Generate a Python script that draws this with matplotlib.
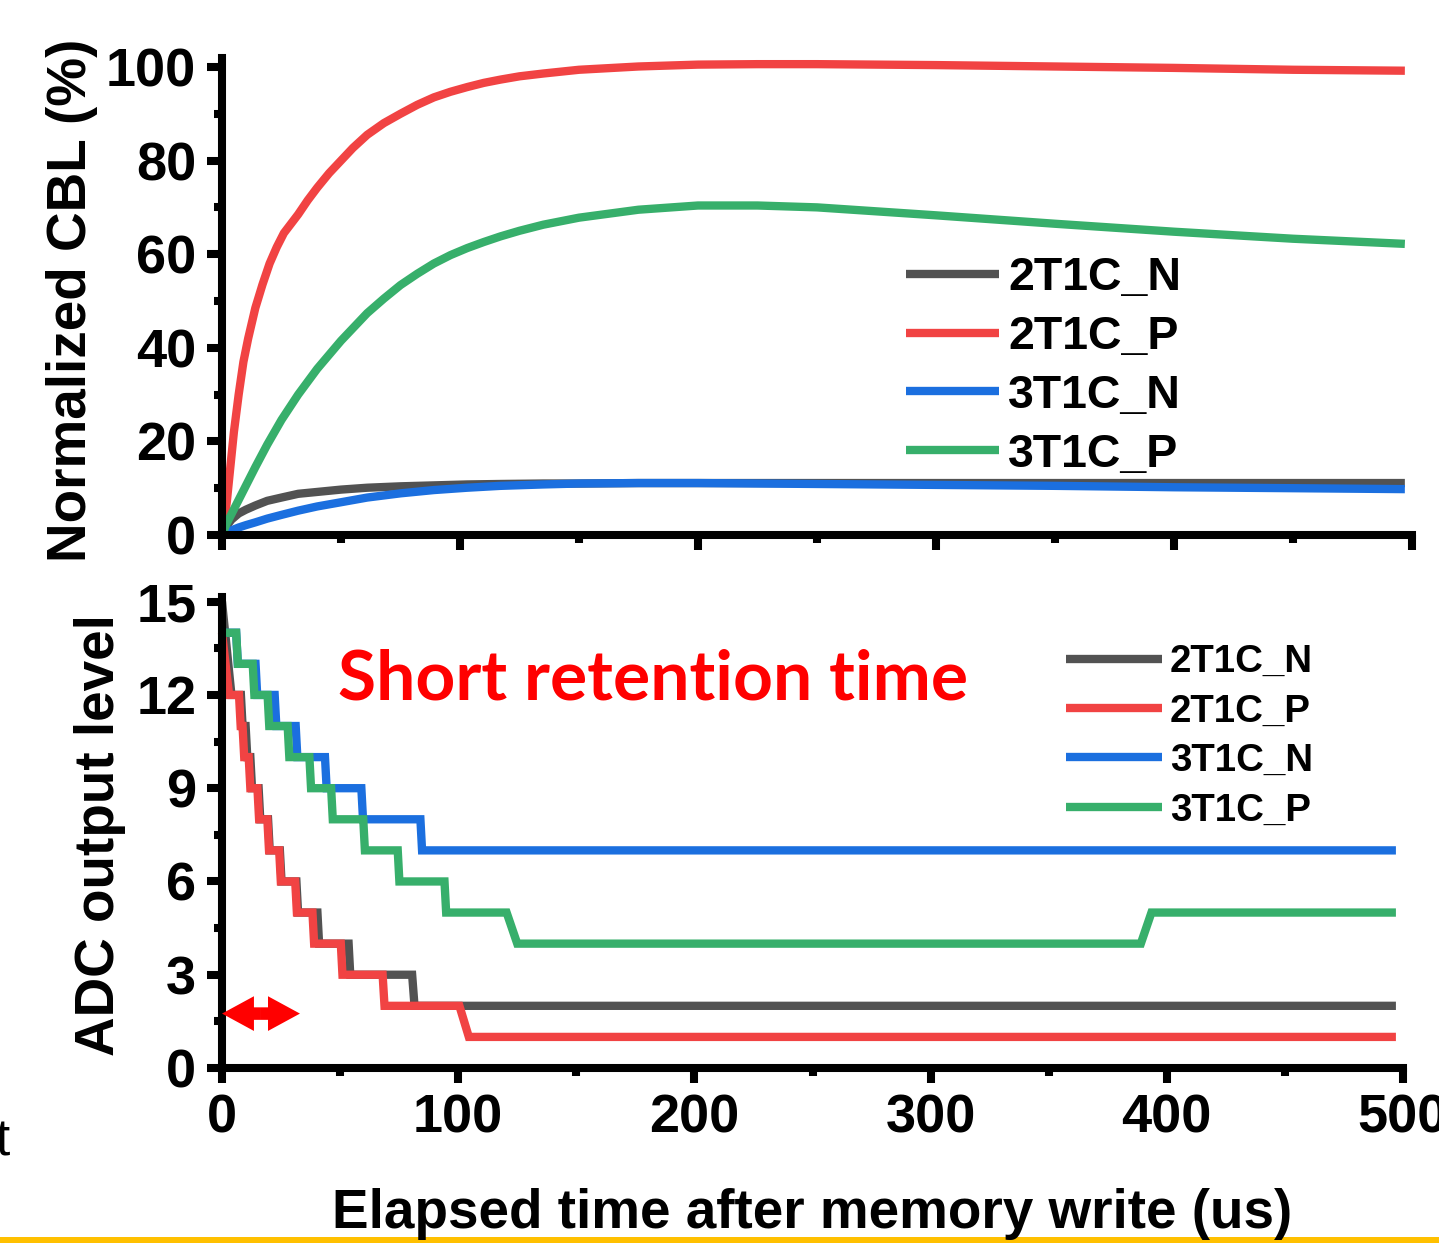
import matplotlib
matplotlib.use("Agg")
import matplotlib.pyplot as plt
from matplotlib.ticker import MultipleLocator
from matplotlib.patches import Rectangle

# ---------------- data ----------------
series_names = ["2T1C_N", "2T1C_P", "3T1C_N", "3T1C_P"]
series_colors = ["#525252", "#F14343", "#1B6FDF", "#37AF6B"]

# top panel: normalized CBL (%) vs elapsed time (us)
t_cbl_n = [0, 2, 4, 7, 10, 14, 19, 25, 32, 40, 50, 61, 75, 89, 103, 117, 135,
           150, 175, 200, 225, 250, 300, 350, 400, 450, 497]
cbl_2t1c_n = [0, 2.0, 3.3, 4.6, 5.4, 6.3, 7.3, 8.0, 8.8, 9.2, 9.7, 10.1, 10.4,
              10.6, 10.8, 10.9, 11.0, 11.0, 11.1, 11.1, 11.1, 11.1, 11.1, 11.1,
              11.1, 11.1, 11.1]
cbl_3t1c_n = [0, 0.6, 1.0, 1.6, 2.1, 2.7, 3.5, 4.3, 5.2, 6.1, 7.0, 8.0, 8.9, 9.6,
              10.1, 10.5, 10.8, 11.0, 11.1, 11.1, 11.0, 10.9, 10.7, 10.5, 10.2,
              10.0, 9.8]
t_cbl_2p = [0, 1, 2, 3, 4, 5, 7, 9, 11, 14, 17, 20, 23, 26, 29, 32, 36, 40, 45,
            50, 55, 61, 68, 75, 82, 89, 96, 103, 110, 117, 125, 135, 150, 175,
            200, 225, 250, 300, 350, 400, 450, 497]
cbl_2t1c_p = [0, 3, 7, 12, 17, 22, 30, 37, 42, 48.5, 53.5, 58, 61.5, 64.5, 66.5,
              68.5, 71.5, 74.2, 77.3, 80, 82.7, 85.5, 88, 90, 91.9, 93.5, 94.7,
              95.7, 96.6, 97.3, 98, 98.6, 99.4, 100.1, 100.5, 100.6, 100.6,
              100.4, 100.1, 99.8, 99.4, 99.2]
t_cbl_3p = [0, 2, 4, 7, 10, 14, 19, 25, 32, 40, 50, 61, 68, 75, 82, 89, 96, 103,
            110, 117, 125, 135, 150, 175, 200, 225, 250, 300, 350, 400, 450, 497]
cbl_3t1c_p = [0, 2.5, 4.5, 7.5, 10.5, 14.5, 19.3, 24.6, 30, 35.5, 41.5, 47.4,
              50.5, 53.4, 55.8, 58, 59.8, 61.3, 62.6, 63.8, 65, 66.3, 67.8, 69.5,
              70.4, 70.4, 70, 68.3, 66.5, 64.8, 63.3, 62.2]

# bottom panel: ADC output level (vertices of the stepped traces)
t_adc_2t1c_n = [0, 4, 8, 8.7, 10, 10.7, 12, 12.7, 15.5, 16.2, 19.5, 20.2, 24.5,
                25.2, 31.5, 32.2, 40.4, 41.1, 53.6, 54.3, 80.5, 81.5, 497]
adc_2t1c_n = [15, 12, 12, 11, 11, 10, 10, 9, 9, 8, 8, 7, 7, 6, 6, 5, 5, 4, 4, 3,
              3, 2, 2]
t_adc_2t1c_p = [0, 3, 7.2, 7.9, 8.7, 9.4, 11.3, 12, 15, 15.7, 19.2, 19.9, 24.2,
                24.9, 31, 31.7, 38.3, 39, 50.3, 51, 68, 68.8, 100.5, 104.5, 497]
adc_2t1c_p = [14, 12, 12, 11, 11, 10, 10, 9, 9, 8, 8, 7, 7, 6, 6, 5, 5, 4, 4, 3,
              3, 2, 2, 1, 1]
t_adc_3t1c_n = [0, 6, 6.7, 14.2, 14.9, 22.3, 23, 31.2, 31.9, 43.6, 44.3, 59,
                59.7, 84, 84.7, 497]
adc_3t1c_n = [14, 14, 13, 13, 12, 12, 11, 11, 10, 10, 9, 9, 8, 8, 7, 7]
t_adc_3t1c_p = [0, 6, 6.7, 13, 13.7, 19.3, 20, 27.8, 28.5, 37, 37.7, 46.2, 46.9,
                59.8, 60.5, 74.4, 75.1, 94.2, 94.9, 120.5, 125, 389, 393.5, 497]
adc_3t1c_p = [14, 14, 13, 13, 12, 12, 11, 11, 10, 10, 9, 9, 8, 8, 7, 7, 6, 6, 5,
              5, 4, 4, 5, 5]

x_ticks = [0, 100, 200, 300, 400, 500]
cbl_ticks = [0, 20, 40, 60, 80, 100]
adc_ticks = [0, 3, 6, 9, 12, 15]

# ---------------- layout ----------------
W, H, DPI = 1439, 1243, 100
plt.rcParams["font.family"] = ["Liberation Sans", "DejaVu Sans"]
plt.rcParams["font.weight"] = "bold"
fig = plt.figure(figsize=(W / DPI, H / DPI), dpi=DPI)


def fx(px):
    return px / W


def fy(py):
    return 1 - py / H


ax1 = fig.add_axes([fx(222), fy(535), (1412 - 222) / W, (535 - 57.6) / H])
ax2 = fig.add_axes([fx(222), fy(1068), (1403 - 222) / W, (1068 - 597) / H])

LW_SP = 5.8
TICK_FS = 39
for ax in (ax1, ax2):
    for s in ("top", "right"):
        ax.spines[s].set_visible(False)
    for s in ("left", "bottom"):
        ax.spines[s].set_linewidth(LW_SP)
        ax.spines[s].set_capstyle("projecting")
    ax.tick_params(which="major", direction="out", length=10.5, width=LW_SP,
                   labelsize=TICK_FS, pad=8)
    ax.tick_params(which="minor", direction="out", length=5.5, width=LW_SP)
    ax.set_xlim(0, 500)
    ax.set_xticks(x_ticks)
    ax.xaxis.set_minor_locator(MultipleLocator(50))

LW = 6.0
# top panel
top_t = [t_cbl_n, t_cbl_2p, t_cbl_n, t_cbl_3p]
top_v = [cbl_2t1c_n, cbl_2t1c_p, cbl_3t1c_n, cbl_3t1c_p]
for name, col, tt, vals in zip(series_names, series_colors, top_t, top_v):
    ax1.plot(tt, vals, color=col, lw=LW, label=name, clip_on=False,
             solid_capstyle="butt", solid_joinstyle="round")
ax1.set_ylim(0, 102)
ax1.set_yticks(cbl_ticks)
ax1.yaxis.set_minor_locator(MultipleLocator(10))
ax1.tick_params(axis="x", labelbottom=False)
for lab in ax1.get_yticklabels():
    lab.set_fontweight("bold")
ax1.legend(loc="upper left", bbox_to_anchor=(fx(906), fy(256)),
           bbox_transform=fig.transFigure, frameon=False,
           prop={"size": 33.5, "weight": "bold"}, handlelength=2.0,
           handletextpad=0.2, labelspacing=0.32, borderpad=0,
           borderaxespad=0)

# bottom panel
bot_t = [t_adc_2t1c_n, t_adc_2t1c_p, t_adc_3t1c_n, t_adc_3t1c_p]
bot_v = [adc_2t1c_n, adc_2t1c_p, adc_3t1c_n, adc_3t1c_p]
for name, col, tt, vv in zip(series_names, series_colors, bot_t, bot_v):
    ax2.plot(tt, vv, color=col, lw=LW, label=name, clip_on=False,
             solid_capstyle="butt", solid_joinstyle="miter")
ax2.set_ylim(0, 15.15)
ax2.set_yticks(adc_ticks)
ax2.yaxis.set_minor_locator(MultipleLocator(1.5))
for lab in ax2.get_xticklabels() + ax2.get_yticklabels():
    lab.set_fontweight("bold")
ax2.legend(loc="upper left", bbox_to_anchor=(fx(1066), fy(644)),
           bbox_transform=fig.transFigure, frameon=False,
           prop={"size": 27.7, "weight": "bold"}, handlelength=2.5,
           handletextpad=0.2, labelspacing=0.35, borderpad=0,
           borderaxespad=0)

# double-headed arrow (two filled half-arrows from the centre)
arrow_y = 1.75
arrow_x0, arrow_x1 = 0, 33
arrow_mid = (arrow_x0 + arrow_x1) / 2
for tip in (arrow_x0, arrow_x1):
    ax2.annotate("", xy=(tip, arrow_y), xytext=(arrow_mid, arrow_y),
                 arrowprops=dict(arrowstyle="simple,head_length=2.3,head_width=2.5,tail_width=0.9",
                                 facecolor="#FF0000", edgecolor="none", lw=0,
                                 shrinkA=0, shrinkB=0, mutation_scale=10),
                 annotation_clip=False)

fig.text(fx(338), fy(700), "Short retention time", color="#FF0000",
         fontsize=50, fontweight="bold", family=["Lato", "DejaVu Sans"],
         ha="left", va="baseline")

# axis labels
fig.text(fx(72), fy(300), "Normalized CBL (%)", rotation=90, fontsize=39.5,
         fontweight="bold", ha="center", va="center")
fig.text(fx(100), fy(835), "ADC output level", rotation=90, fontsize=39.5,
         fontweight="bold", ha="center", va="center")
fig.text(fx(812), fy(1228), "Elapsed time after memory write (us)",
         fontsize=39.5, fontweight="bold", ha="center", va="baseline")

# fragment of neighbouring text at left edge
fig.text(fx(9), fy(1155), "t", fontsize=37, fontweight="normal", ha="right",
         va="baseline")

# yellow rule at the bottom
fig.patches.append(Rectangle((0, 0), 1, 6 / H, transform=fig.transFigure,
                             facecolor="#FFC000", edgecolor="none"))

fig.savefig("out.png", dpi=DPI)
